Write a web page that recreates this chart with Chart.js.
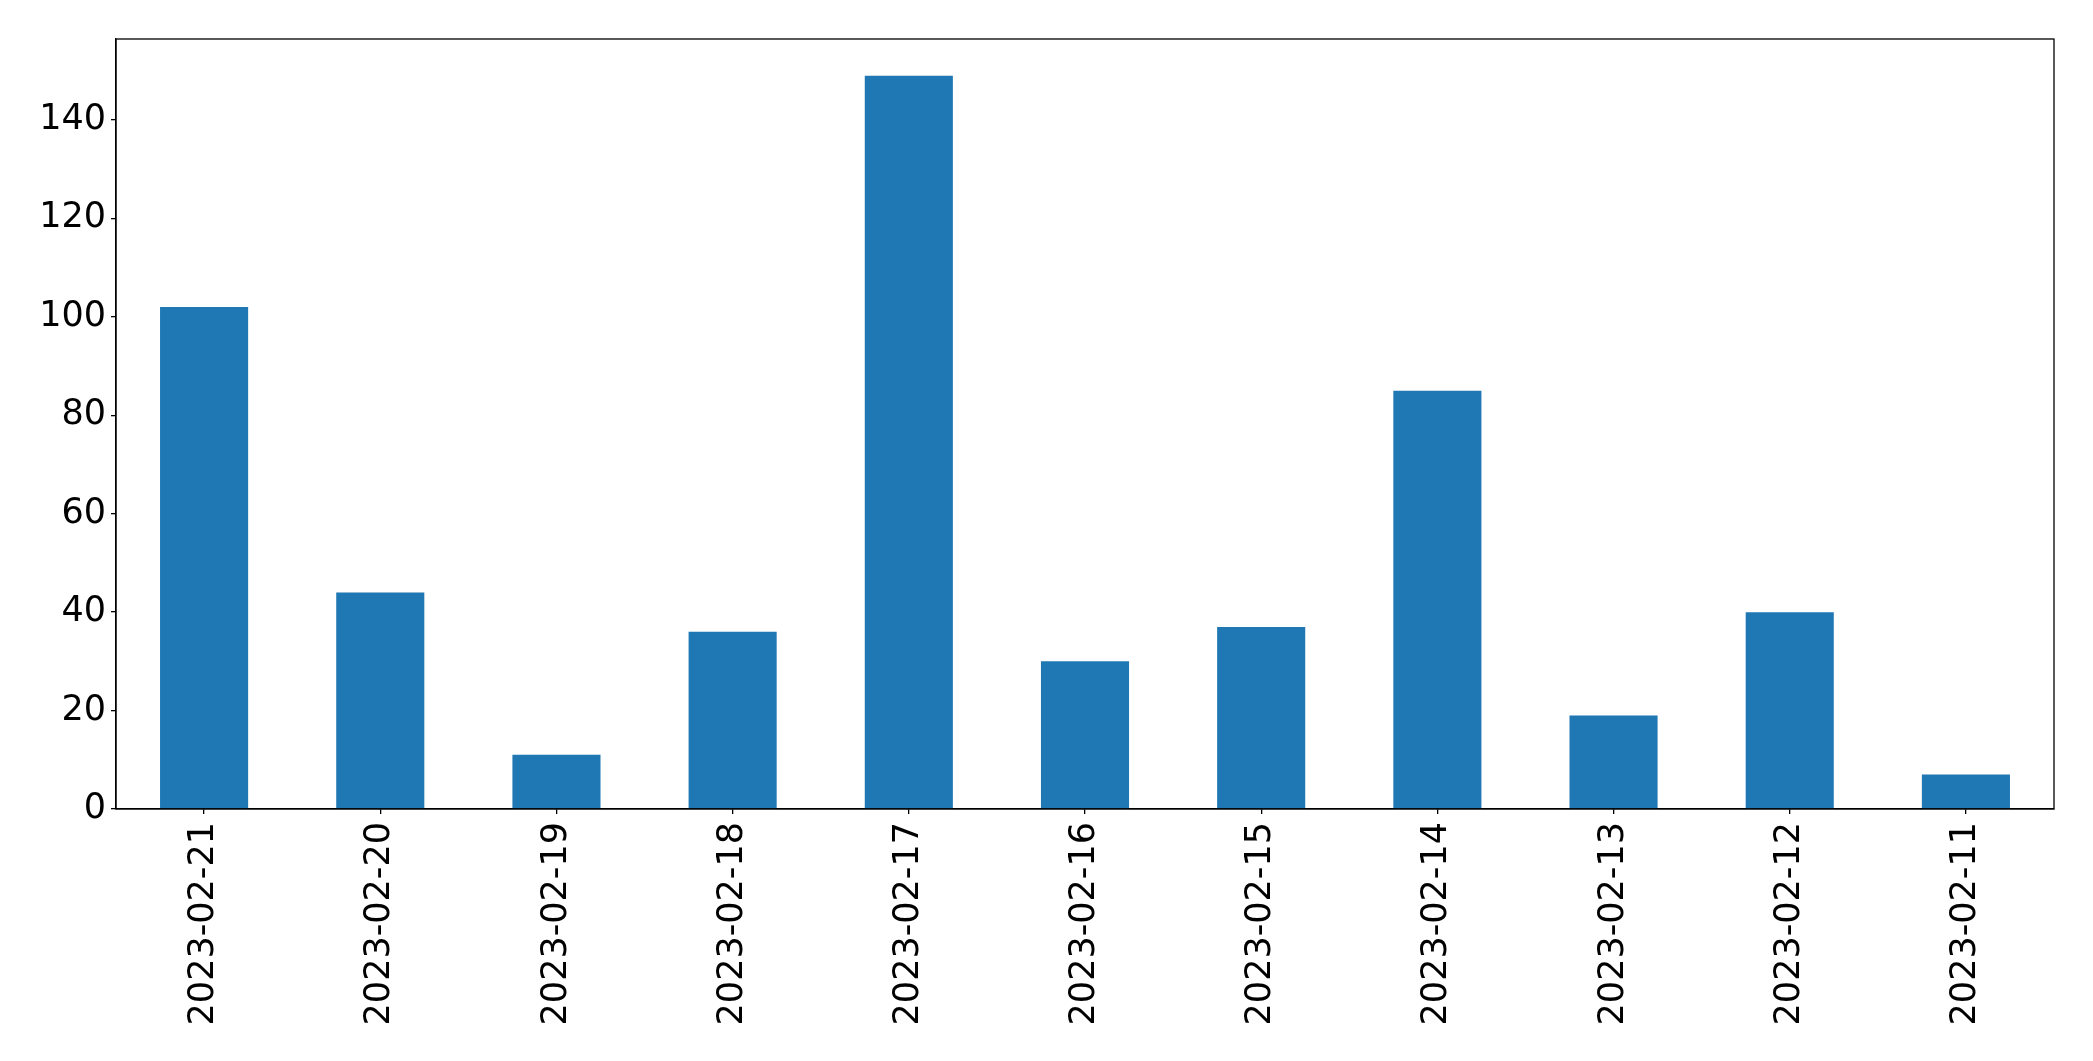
<!DOCTYPE html>
<html>
<head>
<meta charset="utf-8">
<script src="https://cdn.jsdelivr.net/npm/chart.js@4"></script>
<style>
  html, body { margin: 0; padding: 0; background: #fff; }
  #wrap { width: 2093px; height: 1061px; }
</style>
</head>
<body>
<div id="wrap"><canvas id="c" width="2093" height="1061"></canvas></div>
<script>
const categories = ['2023-02-21','2023-02-20','2023-02-19','2023-02-18','2023-02-17','2023-02-16','2023-02-15','2023-02-14','2023-02-13','2023-02-12','2023-02-11'];
const values = [102, 44, 11, 36, 149, 30, 37, 85, 19, 40, 7];
const yTicks = [0, 20, 40, 60, 80, 100, 120, 140];

const frame = {
  id: 'frame',
  afterDraw(chart) {
    const a = chart.chartArea, ctx = chart.ctx;
    ctx.save();
    ctx.strokeStyle = '#000';
    ctx.lineWidth = 1.3;
    ctx.strokeRect(a.left, a.top, a.right - a.left, a.bottom - a.top);
    ctx.restore();
  }
};

new Chart(document.getElementById('c'), {
  type: 'bar',
  data: {
    labels: categories,
    datasets: [{
      data: values,
      backgroundColor: '#1f77b4',
      borderWidth: 0,
      categoryPercentage: 1.0,
      barPercentage: 0.5
    }]
  },
  options: {
    responsive: false,
    animation: false,
    devicePixelRatio: 1,
    layout: { padding: { top: 39, right: 39, left: 0, bottom: 0 } },
    plugins: { legend: { display: false }, tooltip: { enabled: false } },
    scales: {
      x: {
        offset: true,
        grid: { display: true, offset: false, drawOnChartArea: false, drawTicks: true, tickLength: 5, color: '#000', lineWidth: 1.3 },
        border: { display: true, color: '#000', width: 1.3 },
        ticks: {
          color: '#000',
          font: { family: 'DejaVu Sans', size: 35 },
          minRotation: 90, maxRotation: 90,
          padding: 8,
          autoSkip: false
        },
        afterFit(s) { s.height = 252; }
      },
      y: {
        min: 0,
        max: 156.45,
        grid: { display: true, drawOnChartArea: false, drawTicks: true, tickLength: 5, color: '#000', lineWidth: 1.3 },
        border: { display: true, color: '#000', width: 1.3 },
        ticks: {
          color: '#000',
          font: { family: 'DejaVu Sans', size: 35 },
          stepSize: 20,
          padding: 5
        },
        afterBuildTicks(s) { s.ticks = yTicks.map(v => ({ value: v })); },
        afterFit(s) { s.width = 116; }
      }
    }
  },
  plugins: [frame]
});
</script>
</body>
</html>
